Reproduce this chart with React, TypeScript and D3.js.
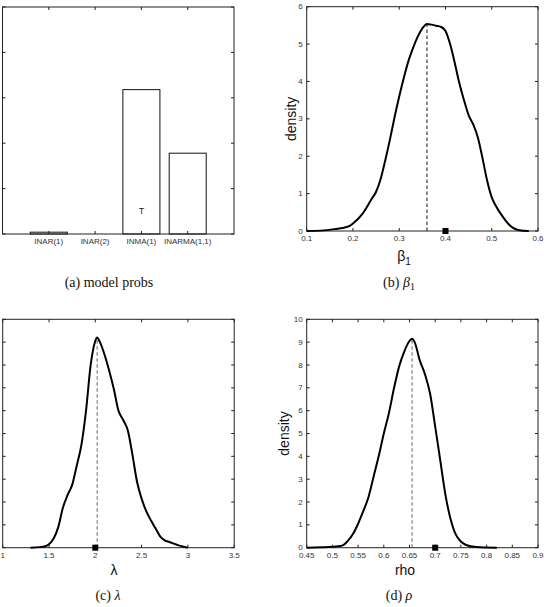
import { useEffect, useRef } from "react";
import * as d3 from "d3";

// model posterior probabilities
const MODELS = ["INAR(1)", "INAR(2)", "INMA(1)", "INARMA(1,1)"];
const MODEL_PROBS = [0.008, 0, 0.636, 0.356];
const TRUE_MODEL = "INMA(1)";

// posterior density of beta_1
const BETA_X = [0.1, 0.13, 0.16, 0.19, 0.2, 0.22, 0.24, 0.25, 0.26, 0.27, 0.28, 0.29, 0.3, 0.31, 0.32, 0.33, 0.34, 0.35, 0.36, 0.37, 0.38, 0.39, 0.4, 0.41, 0.42, 0.43, 0.44, 0.45, 0.46, 0.47, 0.48, 0.49, 0.5, 0.51, 0.52, 0.53, 0.54, 0.55, 0.56, 0.58];
const BETA_DENS = [0, 0.01, 0.05, 0.12, 0.2, 0.45, 0.85, 1.05, 1.4, 1.9, 2.45, 3.05, 3.6, 4.1, 4.55, 4.9, 5.2, 5.42, 5.54, 5.52, 5.49, 5.46, 5.35, 5.0, 4.5, 3.95, 3.5, 3.1, 2.85, 2.5, 1.95, 1.35, 0.9, 0.65, 0.45, 0.28, 0.14, 0.06, 0.02, 0];
const BETA_TRUE = 0.4;

// posterior density of lambda
const LAMBDA_X = [1.3, 1.4, 1.45, 1.5, 1.55, 1.6, 1.65, 1.7, 1.75, 1.8, 1.85, 1.9, 1.95, 2.0, 2.02, 2.05, 2.1, 2.15, 2.2, 2.25, 2.3, 2.35, 2.4, 2.45, 2.5, 2.55, 2.6, 2.65, 2.7, 2.75, 2.8, 2.9, 3.0];
const LAMBDA_DENS = [0, 0.005, 0.01, 0.03, 0.08, 0.18, 0.35, 0.46, 0.55, 0.72, 0.9, 1.2, 1.6, 1.81, 1.84, 1.8, 1.69, 1.55, 1.39, 1.2, 1.12, 1.03, 0.82, 0.58, 0.43, 0.32, 0.24, 0.17, 0.1, 0.065, 0.05, 0.02, 0];
const LAMBDA_TRUE = 2;

// posterior density of rho
const RHO_X = [0.45, 0.48, 0.5, 0.51, 0.52, 0.53, 0.54, 0.55, 0.56, 0.57, 0.58, 0.59, 0.6, 0.61, 0.62, 0.63, 0.64, 0.65, 0.655, 0.66, 0.67, 0.68, 0.69, 0.7, 0.71, 0.72, 0.73, 0.74, 0.75, 0.76, 0.78, 0.82];
const RHO_DENS = [0, 0.02, 0.04, 0.06, 0.1, 0.3, 0.6, 1.05, 1.6, 2.2, 3.1, 4.0, 5.0, 5.9, 7.0, 7.95, 8.6, 9.05, 9.15, 9.0, 8.2, 7.6, 6.75, 5.3, 3.8, 2.3, 1.25, 0.58, 0.27, 0.12, 0.03, 0];
const RHO_TRUE = 0.7;

const TICK_FONT = "'Liberation Sans', Arial, sans-serif";
const SERIF = "'Liberation Serif', 'Times New Roman', serif";
const AXIS_COLOR = "#222";

type Sel = d3.Selection<SVGGElement, unknown, null, undefined>;
type Box = { x0: number; x1: number; y0: number; y1: number };

function frame(g: Sel, b: Box) {
  g.append("rect")
    .attr("x", b.x0)
    .attr("y", b.y0)
    .attr("width", b.x1 - b.x0)
    .attr("height", b.y1 - b.y0)
    .attr("fill", "none")
    .attr("stroke", AXIS_COLOR)
    .attr("stroke-width", 1);
}

// MATLAB-style ticks: inward on all four sides
function ticks(
  g: Sel,
  b: Box,
  xs: number[],
  xPos: (v: number) => number,
  xFmt: (v: number, i: number) => string,
  ys: number[],
  yPos: (v: number) => number,
  yFmt: (v: number) => string
) {
  const t = 3;
  xs.forEach((v, i) => {
    const px = xPos(v);
    g.append("line").attr("x1", px).attr("x2", px).attr("y1", b.y1).attr("y2", b.y1 - t).attr("stroke", AXIS_COLOR);
    g.append("line").attr("x1", px).attr("x2", px).attr("y1", b.y0).attr("y2", b.y0 + t).attr("stroke", AXIS_COLOR);
    g.append("text")
      .attr("x", px)
      .attr("y", b.y1 + 10)
      .attr("text-anchor", "middle")
      .attr("font-family", TICK_FONT)
      .attr("font-size", 8)
      .attr("fill", "#333")
      .text(xFmt(v, i));
  });
  ys.forEach((v) => {
    const py = yPos(v);
    g.append("line").attr("x1", b.x0).attr("x2", b.x0 + t).attr("y1", py).attr("y2", py).attr("stroke", AXIS_COLOR);
    g.append("line").attr("x1", b.x1).attr("x2", b.x1 - t).attr("y1", py).attr("y2", py).attr("stroke", AXIS_COLOR);
    g.append("text")
      .attr("x", b.x0 - 4)
      .attr("y", py)
      .attr("dy", "0.32em")
      .attr("text-anchor", "end")
      .attr("font-family", TICK_FONT)
      .attr("font-size", 8)
      .attr("fill", "#333")
      .text(yFmt(v));
  });
}

function caption(g: Sel, x: number, y: number, parts: [string, string][]) {
  const t = g.append("text").attr("x", x).attr("y", y).attr("text-anchor", "middle").attr("font-family", SERIF).attr("font-size", 14).attr("fill", "#111");
  parts.forEach(([txt, style]) => {
    const s = t.append("tspan").text(txt);
    if (style === "i") s.attr("font-style", "italic");
    if (style === "sub") s.attr("font-size", 10).attr("dy", 3);
  });
}

interface DensityOpts {
  box: Box;
  xDomain: [number, number];
  yDomain: [number, number];
  xTicks: number[];
  yTicks: number[];
  xs: number[];
  dens: number[];
  truth: number;
  dashColor: string;
  showYLabel: boolean;
  yLabelX: number;
}

function drawDensity(g: Sel, o: DensityOpts) {
  const { box } = o;
  const x = d3.scaleLinear().domain(o.xDomain).range([box.x0, box.x1]);
  const y = d3.scaleLinear().domain(o.yDomain).range([box.y1, box.y0]);

  frame(g, box);
  ticks(g, box, o.xTicks, x, (v) => d3.format("~g")(v), o.yTicks, y, (v) => d3.format("~g")(v));

  const pts = o.xs.map((v, i) => [v, o.dens[i]] as [number, number]);
  const line = d3
    .line<[number, number]>()
    .x((d) => x(d[0]))
    .y((d) => y(d[1]))
    .curve(d3.curveMonotoneX);

  // posterior mode
  const iMax = d3.maxIndex(o.dens);
  g.append("line")
    .attr("x1", x(o.xs[iMax]))
    .attr("x2", x(o.xs[iMax]))
    .attr("y1", y(0))
    .attr("y2", y(o.dens[iMax]))
    .attr("stroke", o.dashColor)
    .attr("stroke-width", 1)
    .attr("stroke-dasharray", "3.5 2.5");

  g.append("path").datum(pts).attr("d", line).attr("fill", "none").attr("stroke", "#000").attr("stroke-width", 2).attr("stroke-linejoin", "round");

  // true value
  g.append("rect")
    .attr("x", x(o.truth) - 3)
    .attr("y", y(0) - 3)
    .attr("width", 6)
    .attr("height", 6)
    .attr("fill", "#000");

  if (o.showYLabel) {
    g.append("text")
      .attr("transform", `translate(${o.yLabelX},${(box.y0 + box.y1) / 2}) rotate(-90)`)
      .attr("text-anchor", "middle")
      .attr("font-family", TICK_FONT)
      .attr("font-size", 14)
      .attr("fill", "#111")
      .text("density");
  }
}

export default function App() {
  const svgRef = useRef<SVGSVGElement>(null);

  useEffect(() => {
    if (!svgRef.current) return;
    const svg = d3.select(svgRef.current);
    svg.selectAll("*").remove();
    const g = svg.append("g") as unknown as Sel;

    // (a) model probabilities
    const boxA: Box = { x0: 2.5, x1: 234, y0: 7, y1: 234 };
    const xA = d3.scaleLinear().domain([0, 5]).range([boxA.x0, boxA.x1]);
    const yA = d3.scaleLinear().domain([0, 1]).range([boxA.y1, boxA.y0]);
    const bw = (xA(1) - xA(0)) * 0.8;
    MODELS.forEach((m, i) => {
      const top = yA(MODEL_PROBS[i]);
      g.append("rect")
        .attr("x", xA(i + 1) - bw / 2)
        .attr("y", top)
        .attr("width", bw)
        .attr("height", yA(0) - top)
        .attr("fill", "#fff")
        .attr("stroke", MODEL_PROBS[i] > 0 ? "#111" : "none")
        .attr("stroke-width", 1);
    });
    frame(g, boxA);
    ticks(g, boxA, [1, 2, 3, 4], xA, (_v, i) => MODELS[i], d3.range(0, 1.01, 0.2), yA, (v) => d3.format("~g")(+v.toFixed(1)));
    g.append("text")
      .attr("x", xA(MODELS.indexOf(TRUE_MODEL) + 1))
      .attr("y", yA(0.1))
      .attr("dy", "0.35em")
      .attr("text-anchor", "middle")
      .attr("font-family", TICK_FONT)
      .attr("font-size", 9)
      .attr("fill", "#222")
      .text("T");
    caption(g, 109, 287, [["(a) model probs", ""]]);

    // (b) beta_1
    const boxB: Box = { x0: 306.7, x1: 538, y0: 6.7, y1: 231 };
    drawDensity(g, {
      box: boxB,
      xDomain: [0.1, 0.6],
      yDomain: [0, 6],
      xTicks: d3.range(0.1, 0.61, 0.1),
      yTicks: d3.range(0, 7),
      xs: BETA_X,
      dens: BETA_DENS,
      truth: BETA_TRUE,
      dashColor: "#111",
      showYLabel: true,
      yLabelX: 296,
    });
    const bl = g.append("text").attr("x", 404).attr("y", 261).attr("text-anchor", "middle").attr("font-family", TICK_FONT).attr("font-size", 14).attr("fill", "#111");
    bl.append("tspan").text("β");
    bl.append("tspan").attr("font-size", 10).attr("dy", 4).text("1");
    caption(g, 399, 287, [["(b) ", ""], ["β", "i"], ["1", "sub"]]);

    // (c) lambda
    const boxC: Box = { x0: 2.7, x1: 234.2, y0: 319.3, y1: 547.7 };
    drawDensity(g, {
      box: boxC,
      xDomain: [1, 3.5],
      yDomain: [0, 2],
      xTicks: d3.range(1, 3.51, 0.5),
      yTicks: d3.range(0, 2.01, 0.2).map((v) => +v.toFixed(1)),
      xs: LAMBDA_X,
      dens: LAMBDA_DENS,
      truth: LAMBDA_TRUE,
      dashColor: "#666",
      showYLabel: false,
      yLabelX: 0,
    });
    g.append("text").attr("x", 114).attr("y", 575).attr("text-anchor", "middle").attr("font-family", TICK_FONT).attr("font-size", 14).attr("fill", "#111").text("λ");
    caption(g, 108, 600, [["(c) ", ""], ["λ", "i"]]);

    // (d) rho
    const boxD: Box = { x0: 306.7, x1: 538, y0: 319.3, y1: 547.7 };
    drawDensity(g, {
      box: boxD,
      xDomain: [0.45, 0.9],
      yDomain: [0, 10],
      xTicks: d3.range(0.45, 0.901, 0.05).map((v) => +v.toFixed(2)),
      yTicks: d3.range(0, 11),
      xs: RHO_X,
      dens: RHO_DENS,
      truth: RHO_TRUE,
      dashColor: "#666",
      showYLabel: true,
      yLabelX: 289,
    });
    g.append("text").attr("x", 405).attr("y", 575).attr("text-anchor", "middle").attr("font-family", TICK_FONT).attr("font-size", 14).attr("fill", "#111").text("rho");
    caption(g, 399, 600, [["(d) ", ""], ["ρ", "i"]]);
  }, []);

  return (
    <svg
      ref={svgRef}
      width={546}
      height={607}
      style={{ position: "absolute", left: 0, top: 0, background: "#fff" }}
    />
  );
}
